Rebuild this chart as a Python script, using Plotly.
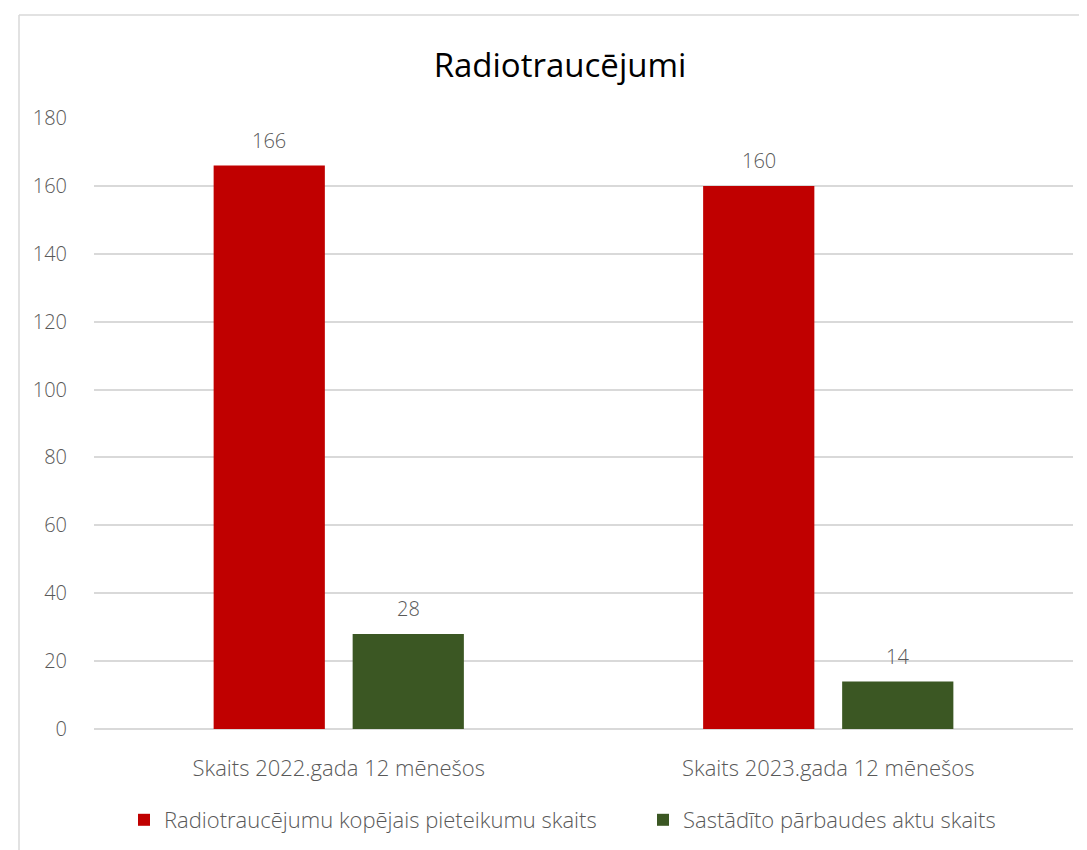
import plotly.graph_objects as go

categories = ["Skaits 2022.gada 12 mēnešos", "Skaits 2023.gada 12 mēnešos"]
series_names = ["Radiotraucējumu kopējais pieteikumu skaits", "Sastādīto pārbaudes aktu skaits"]
total_reports = [166, 160]
inspection_acts = [28, 14]
y_ticks = [0, 20, 40, 60, 80, 100, 120, 140, 160, 180]

FONT = "Open Sans"
GRAY = "#595959"
WT = 300
colors = ["#C00000", "#3B5723"]
series = [total_reports, inspection_acts]
legend_ids = ["legend", "legend2"]

# page body has 8px margin -> figure is offset by 8px; size figure to fit the window
W, H = 1079, 842
L, T, R, B = 86, 110, 14, 121
plot_w = W - L - R
plot_h = H - T - B

fig = go.Figure()
for name, vals, col, lg in zip(series_names, series, colors, legend_ids):
    fig.add_trace(go.Bar(
        x=categories, y=vals, name=name, legend=lg,
        marker=dict(color=col, line=dict(width=0)),
    ))

# data labels
slot = 139
for j, vals in enumerate(series):
    for cat, v in zip(categories, vals):
        fig.add_annotation(x=cat, y=v, xref="x", yref="y", text=str(v), showarrow=False,
                           xshift=(j - 0.5) * slot, yshift=25, yanchor="middle",
                           font=dict(size=20, color=GRAY, family=FONT, weight=WT))

legend_y = (T + plot_h - 812) / plot_h
legend_common = dict(orientation="h", y=legend_y, yanchor="middle", xanchor="left",
                     font=dict(size=22, color=GRAY, family=FONT, weight=WT), itemwidth=30,
                     bgcolor="rgba(0,0,0,0)")

fig.update_layout(
    width=W, height=H,
    margin=dict(l=L, r=R, t=T, b=B, autoexpand=False),
    paper_bgcolor="white", plot_bgcolor="white",
    barmode="group", bargap=0.432, bargroupgap=0.2,
    title=dict(text="Radiotraucējumi", x=552 / W, xanchor="center", y=1 - 57 / H, yanchor="middle",
               font=dict(size=33, color="#000000", family=FONT)),
    font=dict(family=FONT, color=GRAY),
    showlegend=True,
    legend=dict(x=(116 - L) / plot_w, **legend_common),
    legend2=dict(x=(635 - L) / plot_w, **legend_common),
    xaxis=dict(showgrid=False, showline=False, ticks="", ticklabelstandoff=24, automargin=False,
               tickfont=dict(size=22, color=GRAY, family=FONT, weight=WT)),
    yaxis=dict(range=[0, 180], tickvals=y_ticks, showgrid=True, gridcolor="#D9D9D9", gridwidth=1.5,
               zeroline=True, zerolinecolor="#D9D9D9", zerolinewidth=1.5, showline=False,
               ticks="", ticklabelstandoff=26, automargin=False,
               tickfont=dict(size=20, color=GRAY, family=FONT, weight=WT)),
)

# chart container border (top and left edges visible)
bx = (11 - L) / plot_w
by = (T + plot_h - 7) / plot_h
fig.add_shape(type="line", xref="paper", yref="paper", x0=bx, x1=1.1, y0=by, y1=by,
              line=dict(color="#D9D9D9", width=1.5))
fig.add_shape(type="line", xref="paper", yref="paper", x0=bx, x1=bx, y0=by, y1=-0.3,
              line=dict(color="#D9D9D9", width=1.5))

fig.write_html("out.html")
